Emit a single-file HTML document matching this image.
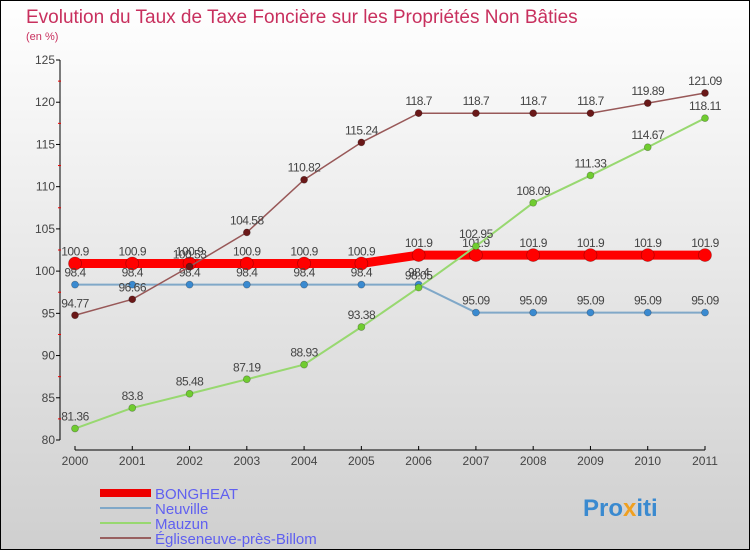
<!DOCTYPE html>
<html><head><meta charset="utf-8"><style>
html,body{margin:0;padding:0}
body{width:750px;height:550px;overflow:hidden;font-family:"Liberation Sans",sans-serif}
</style></head><body>
<svg id="c" width="750" height="550" xmlns="http://www.w3.org/2000/svg" font-family="Liberation Sans, sans-serif">
<defs><linearGradient id="bg" x1="0" y1="0" x2="0" y2="1"><stop offset="0" stop-color="#ffffff"/><stop offset="1" stop-color="#cfcfcf"/></linearGradient></defs>
<rect x="0.5" y="0.5" width="749" height="549" fill="url(#bg)" stroke="#000"/>
<text x="26" y="23" font-size="19" fill="#c8305e">Evolution du Taux de Taxe Foncière sur les Propriétés Non Bâties</text>
<text x="26" y="40" font-size="11" fill="#c8305e">(en %)</text>
<g id="axes"></g><g id="series"></g>
<g>
<rect x="100" y="489" width="51" height="8" fill="#e00"/>
<line x1="100" y1="508" x2="151" y2="508" stroke="#80a8c8" stroke-width="2"/>
<line x1="100" y1="523" x2="151" y2="523" stroke="#98d870" stroke-width="2"/>
<line x1="100" y1="538" x2="151" y2="538" stroke="#986060" stroke-width="2"/>
<text x="155" y="499" font-size="15" fill="#6060f0">BONGHEAT</text>
<text x="155" y="514" font-size="15" fill="#6060f0">Neuville</text>
<text x="155" y="529" font-size="15" fill="#6060f0">Mauzun</text>
<text x="155" y="544" font-size="15" fill="#6060f0">Égliseneuve-près-Billom</text>
</g>
<text x="583" y="516" font-size="24" font-weight="bold" fill="#3a8ad0">Pro<tspan fill="#f0a020">x</tspan>iti</text>
</svg>
<script>
const years=["2000","2001","2002","2003","2004","2005","2006","2007","2008","2009","2010","2011"];
const bongheat=[100.9,100.9,100.9,100.9,100.9,100.9,101.9,101.9,101.9,101.9,101.9,101.9];
const neuville=[98.4,98.4,98.4,98.4,98.4,98.4,98.4,95.09,95.09,95.09,95.09,95.09];
const mauzun=[81.36,83.8,85.48,87.19,88.93,93.38,98.05,102.95,108.09,111.33,114.67,118.11];
const eglise=[94.77,96.66,100.53,104.58,110.82,115.24,118.7,118.7,118.7,118.7,119.89,121.09];
const yTicks=[80,85,90,95,100,105,110,115,120,125];
const NS="http://www.w3.org/2000/svg";
const X=i=>75+i*(630/(years.length-1));
const Y=v=>440-(v-80)*(380/45);
function mk(t,a,p){const e=document.createElementNS(NS,t);for(const k in a)e.setAttribute(k,a[k]);p.appendChild(e);return e;}
const ax=document.getElementById('axes');
mk('line',{x1:60,y1:60,x2:60,y2:440,stroke:'#000'},ax);
mk('line',{x1:75,y1:450,x2:705,y2:450,stroke:'#000'},ax);
yTicks.forEach(v=>{
 const l=mk('line',{x1:56,y1:Y(v),x2:60,y2:Y(v),stroke:'#000'},ax);
 
 const t=mk('text',{x:55,y:Y(v)+4,'font-size':12,fill:'#444','text-anchor':'end'},ax);t.textContent=v;
 
 if(v<125){mk('line',{x1:58,y1:Y(v+2.5),x2:61,y2:Y(v+2.5),stroke:'#e00'},ax);}
});
years.forEach((y,i)=>{
 mk('line',{x1:X(i),y1:446,x2:X(i),y2:450,stroke:'#000'},ax);
 const t=mk('text',{x:X(i),y:465,'font-size':12,fill:'#444','text-anchor':'middle'},ax);t.textContent=y;
 
});
const sg=document.getElementById('series');
function series(name,vals,color,dot,lw,r){
 const g=mk('g',{},sg);
 
 mk('polyline',{points:vals.map((v,i)=>X(i)+','+Y(v)).join(' '),fill:'none',stroke:color,'stroke-width':lw},g);
 vals.forEach((v,i)=>{
  const c=mk('circle',{cx:X(i),cy:Y(v),r:r,fill:dot,stroke:'rgba(0,0,0,0.3)','stroke-width':0.7},g);
  
  const t=mk('text',{x:X(i),y:Y(v)-8,'font-size':12,fill:'#444','text-anchor':'middle','letter-spacing':'-0.5'},g);t.textContent=v;
  
 });
}
series('bongheat',bongheat,'#f00','#f00',9,6.5);
series('neuville',neuville,'#80a8c8','#3a8ad0',2,3.5);
series('mauzun',mauzun,'#98d870','#70cc30',2,3.5);
series('egliseneuve',eglise,'#985858','#6a1818',1.5,3.5);
</script>
</body></html>
